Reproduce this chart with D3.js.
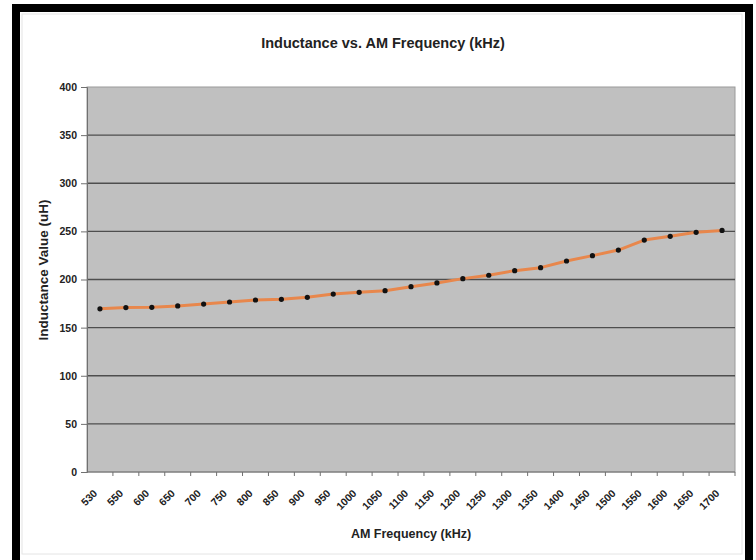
<!DOCTYPE html>
<html>
<head>
<meta charset="utf-8">
<script src="https://cdn.jsdelivr.net/npm/d3@7"></script>
<style>
  body { margin: 0; background: #fff; }
  svg { display: block; font-family: "Liberation Sans", Arial, sans-serif; }
</style>
</head>
<body>
<div id="chart"></div>
<script>
// data
var freqs = ["530","550","600","650","700","750","800","850","900","950","1000","1050","1100",
             "1150","1200","1250","1300","1350","1400","1450","1500","1550","1600","1650","1700"];
var inductance = [169.5,170.8,171.1,172.5,174.5,176.6,178.7,179.4,181.5,184.9,186.7,188.4,192.5,
                  196.4,200.9,204.4,209.2,212.3,219.2,224.8,230.6,241,244.9,249,251];
var yTicks = [0,50,100,150,200,250,300,350,400];

var W = 756, H = 560;
var plot = {left: 87, top: 87, right: 735, bottom: 472};

var svg = d3.select("#chart").append("svg")
  .attr("width", W)
  .attr("height", H);

// white card + black frame
svg.append("rect").attr("x", 0).attr("y", 0).attr("width", W).attr("height", H).attr("fill", "#fff");
svg.append("rect")
  .attr("x", 16).attr("y", 8).attr("width", 733).attr("height", 570)
  .attr("fill", "none").attr("stroke", "#000").attr("stroke-width", 8);
svg.append("rect")
  .attr("x", 22).attr("y", 14).attr("width", 720).attr("height", 540)
  .attr("fill", "none").attr("stroke", "#e4e4e4").attr("stroke-width", 1);

var x = d3.scaleBand()
  .domain(freqs)
  .range([plot.left, plot.right])
  .padding(0);

var y = d3.scaleLinear()
  .domain([0, 400])
  .range([plot.bottom, plot.top]);

// plot area
svg.append("rect")
  .attr("x", plot.left).attr("y", plot.top)
  .attr("width", plot.right - plot.left).attr("height", plot.bottom - plot.top)
  .attr("fill", "#c0c0c0")
  .attr("stroke", "#9a9a9a");

// gridlines
svg.append("g")
  .selectAll("line")
  .data(yTicks.filter(function(d) { return d > 0 && d < 400; }))
  .enter()
  .append("line")
    .attr("x1", plot.left).attr("x2", plot.right)
    .attr("y1", function(d) { return y(d); })
    .attr("y2", function(d) { return y(d); })
    .attr("stroke", "#4e4e4e")
    .attr("stroke-width", 1.3);

// y axis
var yAxis = svg.append("g")
  .attr("transform", "translate(" + plot.left + ",0)")
  .call(d3.axisLeft(y).tickValues(yTicks).tickSize(6).tickPadding(4));
yAxis.select(".domain").attr("stroke", "#707070");
yAxis.selectAll(".tick line").attr("stroke", "#707070");
yAxis.selectAll("text")
  .attr("font-size", "10.5px")
  .attr("font-weight", "bold")
  .attr("fill", "#222");

// x axis: ticks on category boundaries
var xAxis = svg.append("g").attr("transform", "translate(0," + plot.bottom + ")");
xAxis.append("line")
  .attr("x1", plot.left).attr("x2", plot.right)
  .attr("stroke", "#707070");
xAxis.selectAll(".xt")
  .data(freqs)
  .enter()
  .append("line")
    .attr("class", "xt")
    .attr("x1", function(d) { return x(d) + x.bandwidth(); })
    .attr("x2", function(d) { return x(d) + x.bandwidth(); })
    .attr("y1", 0).attr("y2", 4)
    .attr("stroke", "#707070");
xAxis.selectAll(".xl")
  .data(freqs)
  .enter()
  .append("text")
    .attr("class", "xl")
    .attr("transform", function(d) {
      return "translate(" + (x(d) + x.bandwidth() / 2 - 2) + ",22) rotate(-45)";
    })
    .attr("text-anchor", "end")
    .attr("font-size", "10.5px")
    .attr("font-weight", "bold")
    .attr("fill", "#222")
    .text(function(d) { return d; });

// line + markers
var line = d3.line()
  .x(function(d, i) { return x(freqs[i]) + x.bandwidth() / 2; })
  .y(function(d) { return y(d); });

svg.append("path")
  .datum(inductance)
  .attr("d", line)
  .attr("fill", "none")
  .attr("stroke", "#e8874c")
  .attr("stroke-width", 3)
  .attr("stroke-linejoin", "round");

svg.selectAll(".dot")
  .data(inductance)
  .enter()
  .append("circle")
    .attr("class", "dot")
    .attr("cx", function(d, i) { return x(freqs[i]) + x.bandwidth() / 2; })
    .attr("cy", function(d) { return y(d); })
    .attr("r", 2.6)
    .attr("fill", "#111");

// titles
svg.append("text")
  .attr("x", 383).attr("y", 48)
  .attr("text-anchor", "middle")
  .attr("font-size", "14.5px")
  .attr("font-weight", "bold")
  .attr("fill", "#222")
  .text("Inductance vs. AM Frequency (kHz)");

svg.append("text")
  .attr("x", (plot.left + plot.right) / 2).attr("y", 538)
  .attr("text-anchor", "middle")
  .attr("font-size", "12.5px")
  .attr("font-weight", "bold")
  .attr("fill", "#222")
  .text("AM Frequency (kHz)");

svg.append("text")
  .attr("transform", "translate(48,270) rotate(-90)")
  .attr("text-anchor", "middle")
  .attr("font-size", "13.5px")
  .attr("font-weight", "bold")
  .attr("fill", "#222")
  .text("Inductance Value (uH)");
</script>
</body>
</html>
